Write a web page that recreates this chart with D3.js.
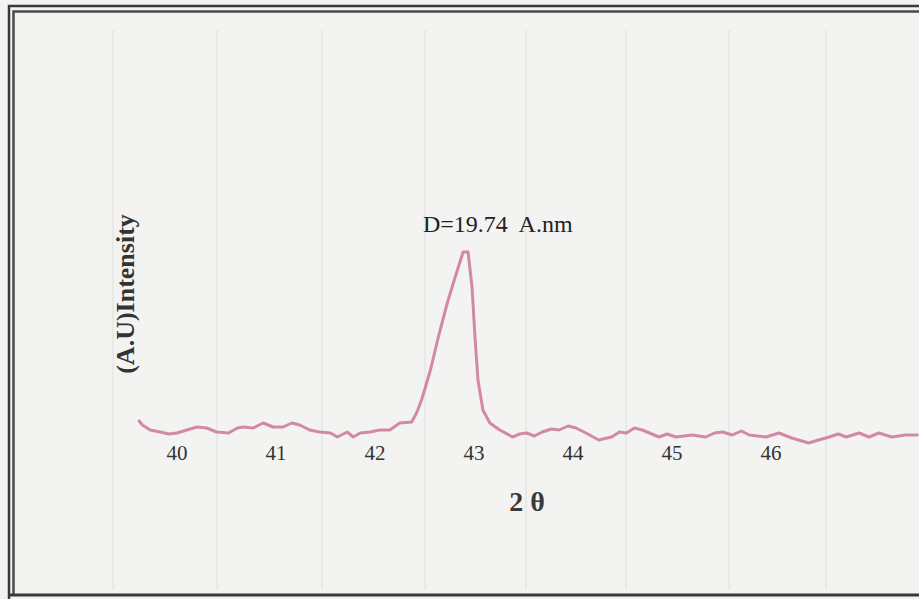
<!DOCTYPE html>
<html>
  <head>
   <meta charset="utf-8" />
   <title>XRD peak</title>
   <style>
     body { margin: 0; background: #f4f5f2; }
   </style>
  </head>
  <body>
<svg id="chart" width=919 height=599></svg>
  <script src="https://d3js.org/d3.v7.min.js"></script>
  <script>

    // 2theta (deg) and intensity (a.u.)
    var twoTheta = [39.61, 39.65, 39.73, 39.83, 39.92, 40.00, 40.10, 40.20, 40.30, 40.40, 40.52, 40.61, 40.67,
      40.77, 40.87, 40.97, 41.07, 41.16, 41.24, 41.34, 41.44, 41.55, 41.62, 41.72, 41.78, 41.85, 41.95,
      42.05, 42.15, 42.25, 42.37, 42.42, 42.47, 42.51, 42.56, 42.64, 42.73, 42.81, 42.89, 42.94, 42.98,
      43.01, 43.04, 43.09, 43.16, 43.26, 43.39, 43.46, 43.53, 43.61, 43.69, 43.78, 43.86, 43.95, 44.03,
      44.13, 44.26, 44.39, 44.47, 44.54, 44.62, 44.70, 44.87, 44.95, 45.04, 45.20, 45.34, 45.43, 45.51,
      45.61, 45.70, 45.78, 45.95, 46.08, 46.21, 46.38, 46.48, 46.59, 46.68, 46.76, 46.89, 46.99, 47.09,
      47.22, 47.36, 47.49];
    var intensity = [15, 12.5, 10, 9, 8, 8.5, 10, 11.5, 11, 9, 8.5, 11, 11.5,
      11, 13.5, 11.5, 11.5, 13.5, 12.5, 10, 9, 8.5, 6.5, 9, 6.5, 8.5, 9,
      10, 10, 13.5, 14, 18.5, 25, 31.5, 40, 56.5, 73.5, 86.5, 99, 99, 81.5,
      56.5, 35, 20, 13.5, 10, 6.5, 8, 8.5, 7, 9, 10.5, 10, 12, 11,
      8.5, 5, 6.5, 9, 8.5, 11, 10, 6.5, 8, 6.5, 7.5, 6.5, 8.5, 9,
      7.5, 9.5, 7.5, 6.5, 8.5, 6, 3.5, 5, 6.5, 8, 6.5, 8.5, 6.5, 8.5,
      6.5, 7.5, 7.5];
    var tickValues = [40, 41, 42, 43, 44, 45, 46];
    var paperLines = [113, 217, 322, 425, 526, 626, 729, 826];

    var data = twoTheta.map(function(t, i){
      return {t: t, v: intensity[i]};
    });

    var svg = d3.select("#chart");

    svg.append("rect")
      .attr("width", 919).attr("height", 599)
      .attr("fill", "#f3f4f1");

    // faint lines from the scanned page
    svg.selectAll(".paper").data(paperLines).enter().append("line")
      .attr("x1", function(d){ return d; }).attr("x2", function(d){ return d; })
      .attr("y1", 30).attr("y2", 590)
      .attr("stroke", "#e6e7e3").attr("stroke-width", 1.5);

    // double frame
    svg.append("path")
      .attr("d", "M9,599 V6 H919")
      .attr("fill", "none").attr("stroke", "#3a3a3a").attr("stroke-width", 2.5);
    svg.append("path")
      .attr("d", "M13.5,595 V11.5 H919")
      .attr("fill", "none").attr("stroke", "#4a4a4a").attr("stroke-width", 2.5);
    svg.append("line")
      .attr("x1", 9).attr("x2", 919).attr("y1", 595).attr("y2", 595)
      .attr("stroke", "#3a3a3a").attr("stroke-width", 3);

    var x = d3.scaleLinear().domain([40, 46]).range([177, 771]);
    var y = d3.scaleLinear().domain([0, 100]).range([450, 250]);

    var line = d3.line()
      .x(function(d){ return x(d.t); })
      .y(function(d){ return y(d.v); });

    svg.append("path")
      .datum(data)
      .attr("d", line)
      .attr("fill", "none")
      .attr("stroke", "#cf7d9c")
      .attr("stroke-width", 3)
      .attr("stroke-linejoin", "round")
      .attr("opacity", 0.9);

    svg.selectAll(".tick-label").data(tickValues).enter().append("text")
      .attr("x", function(d){ return x(d); })
      .attr("y", 460)
      .attr("text-anchor", "middle")
      .attr("font-family", "Liberation Serif, serif")
      .attr("font-size", 21)
      .attr("fill", "#333")
      .text(function(d){ return d; });

    svg.append("text")
      .attr("transform", "translate(134,294) rotate(-90)")
      .attr("text-anchor", "middle")
      .attr("font-family", "Liberation Serif, serif")
      .attr("font-weight", "bold")
      .attr("font-size", 26)
      .attr("fill", "#333")
      .text("(A.U)Intensity");

    svg.append("text")
      .attr("x", 527).attr("y", 511)
      .attr("text-anchor", "middle")
      .attr("font-family", "Liberation Serif, serif")
      .attr("font-weight", "bold")
      .attr("font-size", 28)
      .attr("fill", "#3a3a3a")
      .text("2 θ");

    svg.append("text")
      .attr("x", 423).attr("y", 232)
      .attr("font-family", "Liberation Serif, serif")
      .attr("font-size", 24)
      .attr("fill", "#222")
      .style("white-space", "pre")
      .text("D=19.74  A.nm");

  </script>
  </body>
</html>
